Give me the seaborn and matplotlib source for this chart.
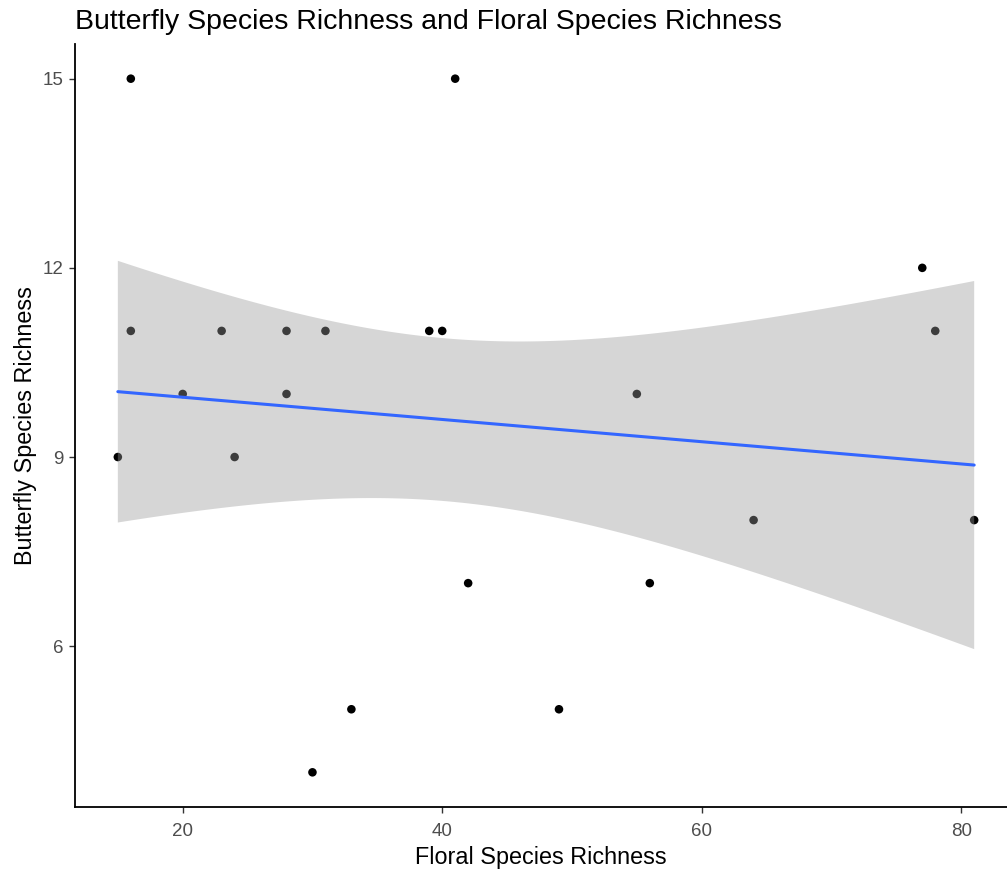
import matplotlib
matplotlib.use("Agg")
import matplotlib.pyplot as plt
import seaborn as sns
import numpy as np
import pandas as pd

# Floral vs butterfly species richness per site
floral_richness = [16, 16, 15, 20, 23, 24, 28, 28, 31, 33, 30, 39, 40, 41, 42, 49, 55, 56, 64, 77, 78, 81]
butterfly_richness = [15, 11, 9, 10, 11, 9, 11, 10, 11, 5, 4, 11, 11, 15, 7, 5, 10, 7, 8, 12, 11, 8]
x_ticks = [20, 40, 60, 80]
y_ticks = [6, 9, 12, 15]

df = pd.DataFrame({"floral": floral_richness, "butterfly": butterfly_richness})

sns.set_style("white")
plt.rcParams["font.family"] = ["Liberation Sans", "DejaVu Sans"]

fig = plt.figure(figsize=(10.07, 8.73), dpi=100)
ax = fig.add_axes([0.0745, 0.0756, 0.9255, 0.874])

sns.scatterplot(data=df, x="floral", y="butterfly", ax=ax, color="black",
                s=38, edgecolor="none", zorder=1)

# Least-squares fit with a t-based 95% confidence ribbon
x = np.asarray(floral_richness, float)
y = np.asarray(butterfly_richness, float)
n = len(x)
slope, intercept = np.polyfit(x, y, 1)
resid = y - (intercept + slope * x)
s = np.sqrt(np.sum(resid ** 2) / (n - 2))
sxx = np.sum((x - x.mean()) ** 2)
t_crit = 2.086  # t(0.975, df=20)
grid = np.linspace(x.min(), x.max(), 200)
fit = intercept + slope * grid
half = t_crit * s * np.sqrt(1.0 / n + (grid - x.mean()) ** 2 / sxx)
ax.fill_between(grid, fit - half, fit + half, facecolor=(0.6, 0.6, 0.6, 0.4),
                edgecolor="none", zorder=2)

sns.regplot(data=df, x="floral", y="butterfly", ax=ax, scatter=False, ci=None,
            line_kws={"color": "#3366FF", "lw": 2.2, "zorder": 3})

ax.set_xlim(11.7, 83.53)
ax.set_ylim(3.45, 15.55)
ax.set_xticks(x_ticks)
ax.set_yticks(y_ticks)

for side in ("top", "right"):
    ax.spines[side].set_visible(False)
for side in ("left", "bottom"):
    ax.spines[side].set_color("black")
    ax.spines[side].set_linewidth(1.3)

ax.tick_params(axis="both", which="major", direction="out", length=4, width=1,
               color="#333333", labelcolor="#4D4D4D", labelsize=13.5,
               bottom=True, left=True)
ax.tick_params(axis="x", pad=7.5)
ax.tick_params(axis="y", pad=4)

ax.set_xlabel("Floral Species Richness", fontsize=16.8, color="black", labelpad=4)
ax.set_ylabel("Butterfly Species Richness", fontsize=16.8, color="black", labelpad=4.5)
ax.set_title("Butterfly Species Richness and Floral Species Richness",
             fontsize=20.5, loc="left", pad=11, color="black")

fig.savefig("out.png", dpi=100)
